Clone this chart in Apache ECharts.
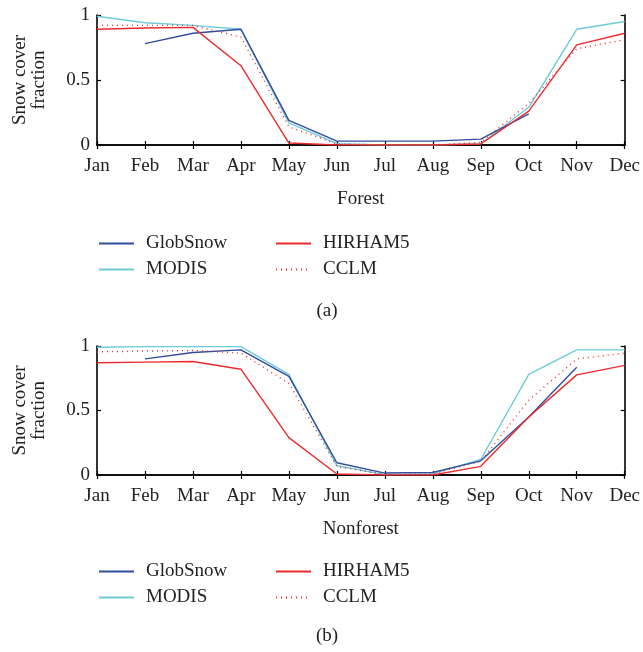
<!DOCTYPE html>
<html>
<head>
<meta charset="utf-8">
<script src="https://cdn.jsdelivr.net/npm/echarts@6/dist/echarts.min.js"></script>
<style>
  html, body { margin: 0; padding: 0; background: #fff; }
  #chart { width: 643px; height: 652px; }
</style>
</head>
<body>
<div id="chart"></div>
<script>
// months on the x axis
var months = ['Jan', 'Feb', 'Mar', 'Apr', 'May', 'Jun', 'Jul', 'Aug', 'Sep', 'Oct', 'Nov', 'Dec']

// (a) Forest
var forestGlobSnow = [null, 0.78, 0.86, 0.89, 0.19, 0.03, 0.03, 0.03, 0.045, 0.24, null, null]
var forestModis = [0.99, 0.94, 0.92, 0.89, 0.17, 0.01, 0, 0, 0.01, 0.29, 0.89, 0.95]
var forestHirham = [0.89, 0.90, 0.905, 0.61, 0.015, 0, 0, 0, 0.008, 0.26, 0.77, 0.86]
var forestCclm = [0.92, 0.92, 0.92, 0.83, 0.14, 0.008, 0, 0, 0.02, 0.32, 0.74, 0.81]

// (b) Nonforest
var nonGlobSnow = [null, 0.90, 0.95, 0.97, 0.765, 0.095, 0.015, 0.02, 0.11, 0.45, 0.835, null]
var nonModis = [0.99, 0.995, 0.995, 0.995, 0.78, 0.072, 0.003, 0.01, 0.12, 0.78, 0.97, 0.97]
var nonHirham = [0.87, 0.875, 0.88, 0.82, 0.29, 0.008, 0, 0, 0.067, 0.45, 0.776, 0.85]
var nonCclm = [0.955, 0.96, 0.965, 0.945, 0.71, 0.067, 0.003, 0.01, 0.105, 0.58, 0.9, 0.945]

var serif = 'Liberation Serif'
var fs = 19
var colors = {
  GlobSnow: '#2f4d9f',
  MODIS: '#6dcbd8',
  HIRHAM5: '#ec2a2e',
  CCLM: '#ec2a2e'
}

var chartDom = document.getElementById('chart')
var myChart = echarts.init(chartDom)

function panelAxes(gridIndex, name) {
  var axisLine = { show: true, lineStyle: { color: '#000', width: 1.6 } }
  var tick = { show: true, inside: true, length: 4, lineStyle: { color: '#000', width: 1.2 } }
  return {
    x: [
      {
        type: 'category',
        gridIndex: gridIndex,
        data: months,
        boundaryGap: false,
        axisLine: axisLine,
        axisTick: tick,
        axisLabel: { color: '#222', fontFamily: serif, fontSize: fs, margin: 12, interval: 0 },
        name: name,
        nameLocation: 'middle',
        nameGap: 45,
        nameTextStyle: { color: '#222', fontFamily: serif, fontSize: fs }
      },
      {
        type: 'category',
        gridIndex: gridIndex,
        position: 'top',
        data: months,
        boundaryGap: false,
        axisLine: axisLine,
        axisTick: tick,
        axisLabel: { show: false }
      }
    ],
    y: [
      {
        type: 'value',
        gridIndex: gridIndex,
        min: 0,
        max: 1,
        interval: 0.5,
        splitLine: { show: false },
        axisLine: axisLine,
        axisTick: tick,
        axisLabel: { color: '#222', fontFamily: serif, fontSize: fs, margin: 7 },
        name: 'Snow cover\nfraction',
        nameLocation: 'middle',
        nameGap: 48,
        nameTextStyle: { color: '#222', fontFamily: serif, fontSize: fs, lineHeight: 19 }
      },
      {
        type: 'value',
        gridIndex: gridIndex,
        position: 'right',
        min: 0,
        max: 1,
        interval: 0.5,
        splitLine: { show: false },
        axisLine: axisLine,
        axisTick: tick,
        axisLabel: { show: false }
      }
    ]
  }
}

function line(name, data, axisIdx, dotted) {
  return {
    name: name,
    type: 'line',
    xAxisIndex: axisIdx,
    yAxisIndex: axisIdx,
    data: data,
    symbol: 'none',
    connectNulls: false,
    color: colors[name],
    lineStyle: { color: colors[name], width: 1.4, type: dotted ? [1, 4] : 'solid' },
    z: dotted ? 3 : 2
  }
}

function legendCol(names, left, top) {
  return {
    data: names,
    orient: 'vertical',
    left: left,
    top: top,
    padding: 0,
    itemWidth: 35,
    itemHeight: 14,
    itemGap: 7,
    selectedMode: false,
    // only the line sample, no marker
    itemStyle: { opacity: 0 },
    textStyle: { color: '#222', fontFamily: serif, fontSize: fs, padding: [0, 0, 0, 7] }
  }
}

var a = panelAxes(0, 'Forest')
var b = panelAxes(1, 'Nonforest')

var option = {
  backgroundColor: '#fff',
  animation: false,
  title: [
    { text: '(a)', left: 322, top: 297, textAlign: 'center', textStyle: { color: '#222', fontFamily: serif, fontSize: fs, fontWeight: 'normal' } },
    { text: '(b)', left: 322, top: 622, textAlign: 'center', textStyle: { color: '#222', fontFamily: serif, fontSize: fs, fontWeight: 'normal' } }
  ],
  grid: [
    { left: 97, right: 16, top: 15, height: 130 },
    { left: 97, right: 16, top: 346, height: 129 }
  ],
  legend: [
    legendCol(['GlobSnow', 'MODIS'], 98, 234),
    legendCol(['HIRHAM5', 'CCLM'], 275, 234),
    legendCol(['GlobSnow', 'MODIS'], 98, 562),
    legendCol(['HIRHAM5', 'CCLM'], 275, 562)
  ],
  xAxis: a.x.concat(b.x),
  yAxis: a.y.concat(b.y),
  series: [
    line('MODIS', forestModis, 0),
    line('GlobSnow', forestGlobSnow, 0),
    line('HIRHAM5', forestHirham, 0),
    line('CCLM', forestCclm, 0, true),
    line('MODIS', nonModis, 2),
    line('GlobSnow', nonGlobSnow, 2),
    line('HIRHAM5', nonHirham, 2),
    line('CCLM', nonCclm, 2, true)
  ]
}

myChart.setOption(option)
</script>
</body>
</html>
